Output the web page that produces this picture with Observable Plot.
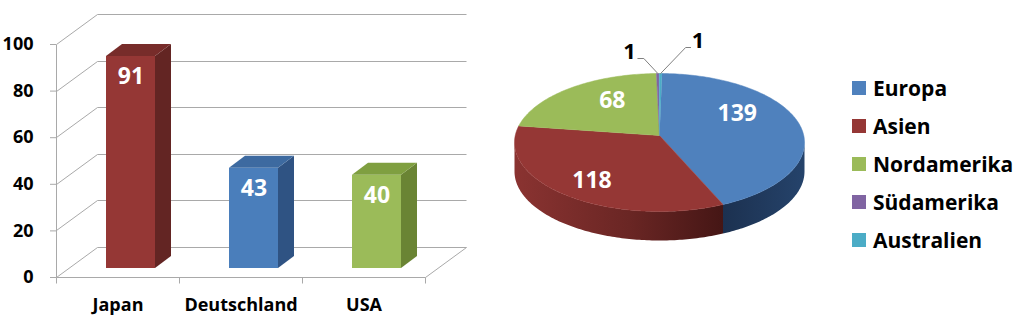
<!DOCTYPE html>
<html>
<head>
<meta charset="utf-8">
<script src="https://cdn.jsdelivr.net/npm/d3@7"></script>
<script src="https://cdn.jsdelivr.net/npm/@observablehq/plot@0.6"></script>
<style>
  body { margin: 0; background: #fff; font-family: "Open Sans", sans-serif; }
  #wrap { position: relative; width: 1024px; height: 322px; overflow: hidden; background: #fff; }
  #bars { position: absolute; left: 0; top: 0; }
  #pie { position: absolute; left: 480px; top: 0; }
  #legend { position: absolute; left: 852px; top: 0; }
  .item { position: absolute; left: 0; height: 24px; display: flex; align-items: center;
          font-weight: 700; font-size: 21px; white-space: nowrap; color: #000; }
  .sw { width: 14px; height: 14px; margin-right: 7px; flex: none; }
</style>
</head>
<body>
<!-- shading for the pie's cylindrical wall -->
<svg width="0" height="0" style="position:absolute">
  <defs>
    <linearGradient id="side-Europa" x1="0" x2="1" y1="0" y2="0">
      <stop offset="0" stop-color="#1c3150"/>
      <stop offset="1" stop-color="#25436b"/>
    </linearGradient>
    <linearGradient id="side-Asien" x1="0" x2="1" y1="0" y2="0">
      <stop offset="0" stop-color="#8a3331"/>
      <stop offset="0.55" stop-color="#6a2624"/>
      <stop offset="1" stop-color="#451615"/>
    </linearGradient>
    <linearGradient id="side-Nordamerika" x1="0" x2="1" y1="0" y2="0">
      <stop offset="0" stop-color="#7f9d40"/>
      <stop offset="1" stop-color="#5d7530"/>
    </linearGradient>
  </defs>
</svg>
<div id="wrap">
  <div id="bars"></div>
  <div id="pie"></div>
  <div id="legend"></div>
</div>
<script>
// ---- data ----
const countries = ["Japan", "Deutschland", "USA"];
const countryValues = [91, 43, 40];
const yTicks = [0, 20, 40, 60, 80, 100];

const regions = ["Europa", "Asien", "Nordamerika", "Südamerika", "Australien"];
const regionValues = [139, 118, 68, 1, 1];

// ---- palette ----
const barFront = ["#953735", "#4a7ebb", "#9bbb59"];
const barSide  = ["#632523", "#2f5383", "#6a8434"];
const barTop   = ["#772c2a", "#3d6aa0", "#7f9f40"];
const regionColors = ["#4f81bd", "#953735", "#9bbb59", "#8064a2", "#4bacc6"];
const GRID = "#a9a9a9";
const FONT = '"Open Sans", sans-serif';

// ---- 3D column chart ----
const DEPTH = {x: 41, y: -30};     // depth of the floor / side walls
const BAR_OFF = {x: 13, y: -9};    // columns sit a little behind the front edge
const BAR_DEPTH = {x: 16, y: -12}; // thickness of each column
const BAR_INSET = 37;

const barData = countries.map((country, i) => ({
  country, value: countryValues[i], front: barFront[i], side: barSide[i], top: barTop[i]
}));

function polygon(g, pts, fill) {
  g.append("path").attr("d", d3.line()(pts) + "Z").attr("fill", fill);
}

// floor, left wall and back wall of the box
function boxFrame(index, {x, y}) {
  const g = d3.create("svg:g").attr("fill", "none").attr("stroke", GRID).attr("stroke-width", 1);
  const [r0, r1] = x.range();
  const line = (pts) => g.append("path").attr("d", d3.line()(pts.map(([a, b]) => [Math.round(a) + 0.5, Math.round(b) + 0.5])));
  for (const t of yTicks) {
    const py = y(t);
    line([[r0, py], [r0 + DEPTH.x, py + DEPTH.y], [r1 + DEPTH.x, py + DEPTH.y]]);
  }
  const y0 = y(0);
  line([[r0, y0], [r1, y0], [r1 + DEPTH.x, y0 + DEPTH.y]]);
  line([[r0, y0], [r0, y(yTicks[yTicks.length - 1])]]);
  for (let i = 0; i <= countries.length; i++) {
    const px = r0 + i * x.step();
    line([[px, y0], [px, y0 + 6]]);
  }
  return g.node();
}

// right side and top of each column
function columnFaces(index, {x, y}) {
  const g = d3.create("svg:g");
  for (const d of barData) {
    const xl = x(d.country) + BAR_INSET + BAR_OFF.x;
    const xr = x(d.country) + x.bandwidth() - BAR_INSET + BAR_OFF.x;
    const yb = y(0) + BAR_OFF.y, yt = y(d.value) + BAR_OFF.y;
    polygon(g, [[xr, yt], [xr + BAR_DEPTH.x, yt + BAR_DEPTH.y], [xr + BAR_DEPTH.x, yb + BAR_DEPTH.y], [xr, yb]], d.side);
    polygon(g, [[xl, yt], [xr, yt], [xr + BAR_DEPTH.x, yt + BAR_DEPTH.y], [xl + BAR_DEPTH.x, yt + BAR_DEPTH.y]], d.top);
  }
  return g.node();
}

const barPlot = Plot.plot({
  width: 480, height: 322,
  marginLeft: 56, marginRight: 55, marginTop: 44, marginBottom: 45,
  x: {domain: countries, padding: 0},
  y: {domain: [0, 100]},
  color: {type: "identity"},
  style: {fontFamily: FONT, background: "transparent", overflow: "visible"},
  marks: [
    boxFrame,
    Plot.axisY({ticks: yTicks, label: null, tickSize: 6, tickPadding: 17, fontSize: 18, fontWeight: "bold", stroke: GRID, fill: "#000"}),
    Plot.axisX({label: null, tickSize: 0, tickPadding: 21, fontSize: 18, fontWeight: "bold", fill: "#000"}),
    Plot.barY(barData, {x: "country", y: "value", fill: "front", dx: BAR_OFF.x, dy: BAR_OFF.y, insetLeft: BAR_INSET, insetRight: BAR_INSET}),
    columnFaces,
    Plot.text(barData, {x: "country", y: "value", text: (d) => String(d.value), dx: BAR_OFF.x, dy: BAR_OFF.y + 20,
      fill: "#fff", fontSize: 23, fontWeight: "bold"})
  ]
});
document.getElementById("bars").append(barPlot);

// ---- 3D pie ----
const RX = 145, RY = 69;        // ellipse radii (px)
const THICK = 29;               // wall height (px)
const APEX = 7;                 // perspective lift of the pie centre (px)
const CX = 179, CY = 142;       // ellipse centre inside the pie panel
const START = Math.PI / 180;    // first slice starts just right of 12 o'clock
const wallU = THICK / RY, apexU = APEX / RY;
const deg = Math.PI / 180;

const slices = d3.pie().sort(null).startAngle(START).endAngle(START + 2 * Math.PI)(regionValues);

function arcPoints(a0, a1, yShift = 0) {
  const n = Math.max(2, Math.ceil(Math.abs(a1 - a0) / deg) + 1);
  return d3.range(n).map((k) => {
    const a = a0 + (a1 - a0) * k / (n - 1);
    return {x: Math.sin(a), y: Math.cos(a) + yShift};
  });
}

const topRows = [], wallRows = [];
slices.forEach((s, i) => {
  const name = regions[i];
  topRows.push({id: name, x: 0, y: apexU, fill: regionColors[i]});
  for (const p of arcPoints(s.startAngle, s.endAngle)) topRows.push({id: name, ...p, fill: regionColors[i]});
  const a = Math.max(s.startAngle, Math.PI / 2), b = Math.min(s.endAngle, 3 * Math.PI / 2);
  if (a < b) {
    const fill = `url(#side-${name})`;
    for (const p of arcPoints(a, b)) wallRows.push({id: name, ...p, fill});
    for (const p of arcPoints(b, a, -wallU)) wallRows.push({id: name, ...p, fill});
  }
});

// values inside the large slices, nudged (px) the way the labels are laid out on the tilted pie
const insideNudge = [[-10, -17], [-11, 8], [9, -6]];
const insideRows = slices.map((s, i) => ({s, i})).filter(({s}) => s.value >= 10).map(({s, i}, j) => {
  const m = (s.startAngle + s.endAngle) / 2, r = 0.62;
  const [nx, ny] = insideNudge[j];
  return {x: r * Math.sin(m) + nx / RX, y: apexU + r * (Math.cos(m) - apexU) - ny / RY, text: String(regionValues[i])};
});

// call-outs for the two tiny slices
const calloutLayout = [
  {elbow: [-14, -15], end: [-20, -15], anchor: "end"},
  {elbow: [25, -26], end: [30, -26], anchor: "start"}
];
const leaderRows = [], calloutRows = [];
slices.filter((s) => s.value < 10).forEach((s, j) => {
  const m = (s.startAngle + s.endAngle) / 2;
  const base = {x: Math.sin(m), y: Math.cos(m)};
  const L = calloutLayout[j];
  const px = ([dx, dy]) => ({x: base.x + dx / RX, y: base.y - dy / RY});
  const id = "c" + j;
  leaderRows.push({id, ...base}, {id, ...px(L.elbow)}, {id, ...px(L.end)});
  calloutRows.push({...px(L.end), text: String(s.value), anchor: L.anchor});
});

const piePlot = Plot.plot({
  width: 340, height: 322,
  x: {domain: [-1, 1], range: [CX - RX, CX + RX], axis: null},
  y: {domain: [-1, 1], range: [CY + RY, CY - RY], axis: null},
  color: {type: "identity"},
  style: {fontFamily: FONT, background: "transparent", overflow: "visible"},
  marks: [
    Plot.line(wallRows, {x: "x", y: "y", z: "id", fill: "fill", stroke: "none"}),
    Plot.line(topRows, {x: "x", y: "y", z: "id", fill: "fill", stroke: "fill", strokeWidth: 0.5}),
    Plot.text(insideRows, {x: "x", y: "y", text: "text", fill: "#fff", fontSize: 23, fontWeight: "bold"}),
    Plot.line(leaderRows, {x: "x", y: "y", z: "id", stroke: "#808080", strokeWidth: 1}),
    Plot.text(calloutRows.filter((d) => d.anchor === "end"), {x: "x", y: "y", text: "text", textAnchor: "end", dx: -2, dy: -7, fill: "#000", fontSize: 22, fontWeight: "bold"}),
    Plot.text(calloutRows.filter((d) => d.anchor === "start"), {x: "x", y: "y", text: "text", textAnchor: "start", dx: 1, dy: -7, fill: "#000", fontSize: 22, fontWeight: "bold"})
  ]
});
document.getElementById("pie").append(piePlot);

// ---- legend ----
const legend = d3.select("#legend");
regions.forEach((name, i) => {
  const item = legend.append("div").attr("class", "item").style("top", `${76 + i * 38}px`);
  item.append("div").attr("class", "sw").style("background", regionColors[i]);
  item.append("span").text(name);
});
</script>
</body>
</html>
